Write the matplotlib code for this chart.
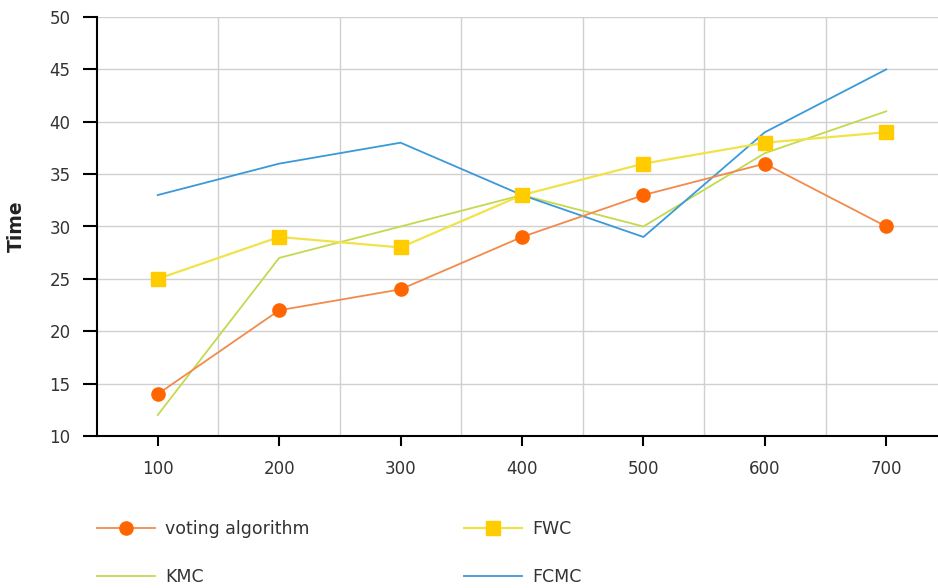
import matplotlib.pyplot as plt
import numpy as np

plt.rcParams["font.family"] = ["DejaVu Sans"]

sizes = [100, 200, 300, 400, 500, 600, 700]
voting = [14, 22, 24, 29, 33, 36, 30]
fwc = [25, 29, 28, 33, 36, 38, 39]
kmc = [12, 27, 30, 33, 30, 37, 41]
fcmc = [33, 36, 38, 33, 29, 39, 45]

W, H = 938, 588
fig = plt.figure(figsize=(W / 100, H / 100), dpi=100)
ax = fig.add_axes([97 / W, 1 - 436 / H, (947 - 97) / W, (436 - 17) / H])

x = np.arange(len(sizes))

l_vote, = ax.plot(x, voting, color="#f28a4c", lw=1.3, marker="o", ms=9.5,
                  mfc="#ff6600", mec="#ff6600", zorder=4)
l_fwc, = ax.plot(x, fwc, color="#f2e24a", lw=1.6, marker="s", ms=9.5,
                 mfc="#ffcc00", mec="#ffcc00", zorder=3)
l_kmc, = ax.plot(x, kmc, color="#c5d94e", lw=1.3, zorder=2)
l_fcmc, = ax.plot(x, fcmc, color="#3a9ad9", lw=1.3, zorder=2)

ax.set_xlim(-0.5, len(sizes) - 0.5)
ax.set_ylim(10, 50)
ax.set_xticks(x)
ax.set_xticklabels([str(s) for s in sizes])
ax.set_xticks(np.arange(len(sizes) - 1) + 0.5, minor=True)
ax.set_yticks(np.arange(10, 51, 5))

ax.grid(True, axis="y", color="#d0d0d0", lw=1)
ax.grid(True, axis="x", which="minor", color="#d0d0d0", lw=1)
ax.set_axisbelow(True)

for s in ["top", "right"]:
    ax.spines[s].set_visible(False)
ax.spines["left"].set_linewidth(1.5)
ax.spines["bottom"].set_linewidth(1.5)

ax.tick_params(axis="y", length=10, width=1.5, labelsize=12, pad=9)
ax.tick_params(axis="x", which="major", length=7, width=1.5, labelsize=12, pad=10)
ax.tick_params(axis="x", which="minor", length=0)
ax.tick_params(colors="black", which="both", labelcolor="#333333")

ax.set_ylabel("Time", fontsize=13.5, fontweight="bold", color="#222222", labelpad=17)

fig.legend([l_vote, l_kmc, l_fwc, l_fcmc],
           ["voting algorithm", "KMC", "FWC", "FCMC"],
           ncol=2, loc="upper left", bbox_to_anchor=(97 / W, 1 - 520 / H),
           borderpad=0, borderaxespad=0,
           frameon=False, fontsize=12.5, handlelength=3.35, handletextpad=0.57,
           labelspacing=1.75, columnspacing=8.9, labelcolor="#333333")

fig.savefig("out.png", dpi=100)
